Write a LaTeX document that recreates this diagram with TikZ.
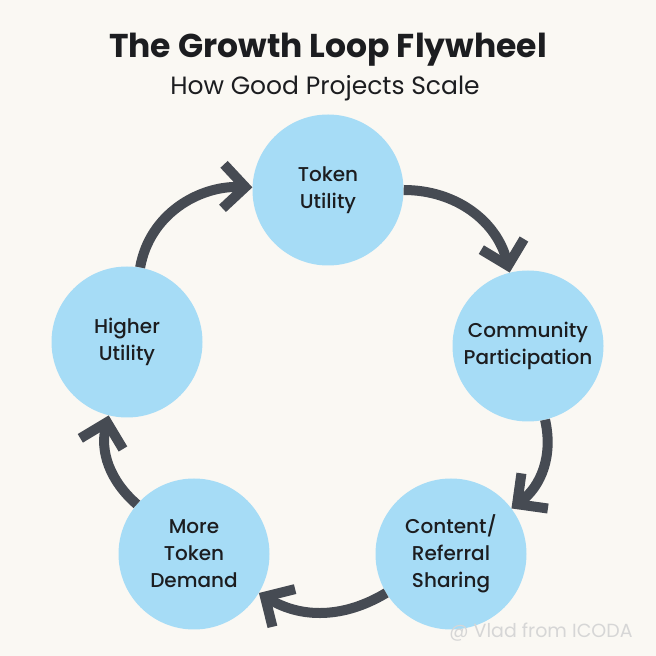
\documentclass[tikz,border=0pt]{standalone}
\usepackage{fontspec}
\setmainfont{Poppins}
\newfontfamily\medfont{Poppins Medium}
\usetikzlibrary{arrows.meta}
\definecolor{paper}{HTML}{FAF8F3}
\definecolor{bubble}{HTML}{A6DCF6}
\definecolor{ink}{HTML}{1C1D20}
\definecolor{slate}{HTML}{464B53}

\begin{document}
\begin{tikzpicture}[x=1pt,y=1pt,>={Straight Barb[length=22pt,width=44pt]},stage/.style={circle,fill=bubble,minimum size=151pt,inner sep=0pt,align=center,text=ink,font=\medfont\fontsize{20}{27}\selectfont},flow/.style={->,line width=10pt,draw=slate}]
\fill[paper] (0,0) rectangle (656,656);
\node[text=ink,font=\bfseries\fontsize{33}{40}\selectfont] (title) at (328,606) {The Growth Loop Flywheel};
\node[text=ink,font=\fontsize{25}{28}\selectfont] (subtitle) at (325,568) {How Good Projects Scale};
\node[stage] (utility) at (328,466) {Token\\Utility};
\node[stage] (community) at (528,310) {Community\\Participation};
\node[stage] (sharing) at (451,102) {Content/\\Referral\\Sharing};
\node[stage] (demand) at (194,102) {More\\Token\\Demand};
\node[stage] (higher) at (127,314) {Higher\\Utility};
\draw[flow] (utility) to[out=0,in=104] (community);
\draw[flow] (community) to[out=-77,in=37] (sharing);
\draw[flow] (sharing) to[out=-149,in=-31] (demand);
\draw[flow] (demand) to[out=139,in=-104] (higher);
\draw[flow] (higher) to[out=80,in=178] (utility);
\node[text=black!16,font=\fontsize{19}{22}\selectfont] (mark) at (541,24) {@ Vlad from ICODA};
\end{tikzpicture}
\end{document}
